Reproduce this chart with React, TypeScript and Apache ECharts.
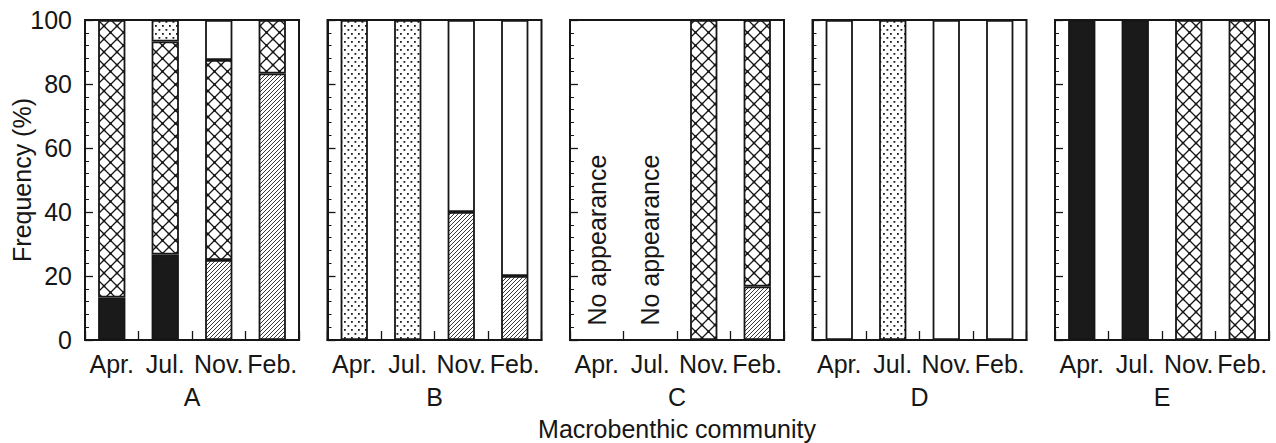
import React, { useEffect, useRef } from 'react';
import * as echarts from 'echarts';

const months = ['Apr.', 'Jul.', 'Nov.', 'Feb.'];
const communities = ['A', 'B', 'C', 'D', 'E'];
const yTickStep = 20;

// Frequency (%) per community (rows A–E) and month (columns), stacked bottom to top
const solidShare = [
  [13.3, 26.7, 0, 0],
  [0, 0, 0, 0],
  [0, 0, 0, 0],
  [0, 0, 0, 0],
  [100, 100, 0, 0],
];
const hatchedShare = [
  [0, 0, 25, 83.3],
  [0, 0, 40, 20],
  [0, 0, 0, 16.7],
  [0, 0, 0, 0],
  [0, 0, 0, 0],
];
const crossedShare = [
  [86.7, 66.6, 62.5, 16.7],
  [0, 0, 0, 0],
  [0, 0, 100, 83.3],
  [0, 0, 0, 0],
  [0, 0, 100, 100],
];
const dottedShare = [
  [0, 6.7, 0, 0],
  [100, 100, 0, 0],
  [0, 0, 0, 0],
  [0, 100, 0, 0],
  [0, 0, 0, 0],
];
const openShare = [
  [0, 0, 12.5, 0],
  [0, 0, 60, 80],
  [0, 0, 0, 0],
  [100, 0, 100, 100],
  [0, 0, 0, 0],
];
// months with no individuals recorded, per community
const absentMonths = [[], [], ['Apr.', 'Jul.'], [], []];

const FONT = '"Liberation Sans", Arial, Helvetica, sans-serif';
const INK = '#161616';
const FS = 25;

function makeTile(w: number, h: number, draw: (ctx: CanvasRenderingContext2D) => void) {
  const c = document.createElement('canvas');
  c.width = w;
  c.height = h;
  const ctx = c.getContext('2d')!;
  ctx.fillStyle = '#ffffff';
  ctx.fillRect(0, 0, w, h);
  draw(ctx);
  return c;
}

function buildFills() {
  const cross = makeTile(13, 13, (ctx) => {
    ctx.strokeStyle = INK;
    ctx.lineWidth = 1.3;
    ctx.beginPath();
    ctx.moveTo(0, 0);
    ctx.lineTo(13, 13);
    ctx.moveTo(13, 0);
    ctx.lineTo(0, 13);
    ctx.stroke();
    ctx.fillStyle = INK;
    ctx.fillRect(5.3, 5.3, 2.4, 2.4);
    ctx.fillRect(0, 0, 1.2, 1.2);
    ctx.fillRect(11.8, 0, 1.2, 1.2);
    ctx.fillRect(0, 11.8, 1.2, 1.2);
    ctx.fillRect(11.8, 11.8, 1.2, 1.2);
  });
  const dots = makeTile(7, 8, (ctx) => {
    ctx.fillStyle = '#1e1e1e';
    ctx.fillRect(1, 1, 1.8, 1.8);
    ctx.fillRect(4.5, 5, 1.8, 1.8);
  });
  const hatch = makeTile(4, 4, (ctx) => {
    ctx.strokeStyle = '#222';
    ctx.lineWidth = 0.9;
    ctx.beginPath();
    ctx.moveTo(0, 4);
    ctx.lineTo(4, 0);
    ctx.moveTo(-1, 1);
    ctx.lineTo(1, -1);
    ctx.moveTo(3, 5);
    ctx.lineTo(5, 3);
    ctx.stroke();
  });
  return {
    solid: '#1a1a1a',
    hatched: { image: hatch, repeat: 'repeat' },
    crossed: { image: cross, repeat: 'repeat' },
    dotted: { image: dots, repeat: 'repeat' },
    open: '#ffffff',
  };
}

const GRID_LEFT = 85;
const GRID_STEP = 242.5;
const GRID_W = 214;
const GRID_TOP = 20;
const GRID_H = 320;

export default function App() {
  const ref = useRef<HTMLDivElement>(null);

  useEffect(() => {
    if (!ref.current) return;
    const chart = echarts.init(ref.current, undefined, { renderer: 'svg' });
    const fills = buildFills();
    const layers: [string, number[][], any][] = [
      ['solid', solidShare, fills.solid],
      ['hatched', hatchedShare, fills.hatched],
      ['crossed', crossedShare, fills.crossed],
      ['dotted', dottedShare, fills.dotted],
      ['open', openShare, fills.open],
    ];

    const grids = communities.map((_, g) => ({
      left: GRID_LEFT + g * GRID_STEP,
      top: GRID_TOP,
      width: GRID_W,
      height: GRID_H,
      show: true,
      borderColor: INK,
      borderWidth: 2,
      backgroundColor: '#fff',
    }));

    const xAxes = communities.map((name, g) => ({
      gridIndex: g,
      type: 'category',
      data: months,
      name,
      nameLocation: 'middle',
      nameGap: 44,
      nameMoveOverlap: false,
      nameTextStyle: { color: INK, fontSize: FS, fontFamily: FONT },
      axisLine: { show: true, lineStyle: { color: INK, width: 2 } },
      axisTick: { show: true, inside: true, length: 9, lineStyle: { color: INK, width: 1.3 } },
      axisLabel: { color: INK, fontSize: FS, fontFamily: FONT, margin: 11, interval: 0, hideOverlap: false },
      splitLine: { show: false },
    }));

    const yAxes = communities.map((_, g) => ({
      gridIndex: g,
      type: 'value',
      min: 0,
      max: 100,
      interval: yTickStep,
      name: g === 0 ? 'Frequency (%)' : '',
      nameLocation: 'middle',
      nameGap: 51,
      nameMoveOverlap: false,
      nameTextStyle: { color: INK, fontSize: FS, fontFamily: FONT },
      axisLine: { show: true, lineStyle: { color: INK, width: 2 } },
      axisTick: { show: true, inside: true, length: 8, lineStyle: { color: INK, width: 1.3 } },
      minorTick: { show: true, splitNumber: 5, length: 4, lineStyle: { color: INK, width: 1 } },
      axisLabel: { show: g === 0, color: INK, fontSize: FS, fontFamily: FONT, margin: 13 },
      splitLine: { show: false },
      minorSplitLine: { show: false },
    }));

    const series: any[] = [];
    communities.forEach((_, g) => {
      layers.forEach(([key, table, fill]) => {
        series.push({
          type: 'bar',
          name: key,
          xAxisIndex: g,
          yAxisIndex: g,
          stack: 'community' + g,
          barWidth: '51%',
          data: table[g].map((v) => (v > 0 ? v : '-')),
          itemStyle: { color: fill, borderColor: INK, borderWidth: 1.8 },
          emphasis: { disabled: true },
        });
      });
    });

    const footer = {
      type: 'text',
      x: GRID_LEFT + 2 * GRID_STEP + GRID_W / 2,
      y: 429,
      style: {
        text: 'Macrobenthic community',
        fill: INK,
        fontSize: FS,
        fontFamily: FONT,
        align: 'center',
        verticalAlign: 'middle',
      },
    };

    chart.setOption({
      animation: false,
      backgroundColor: '#fff',
      grid: grids,
      xAxis: xAxes,
      yAxis: yAxes,
      series,
      graphic: [footer],
    });

    // "No appearance" notes, anchored on their category through the axis scale
    const notes: any[] = [];
    absentMonths.forEach((list, g) => {
      list.forEach((m) => {
        const [px, py] = chart.convertToPixel({ xAxisIndex: g, yAxisIndex: g }, [m, 4.5]) as number[];
        notes.push({
          type: 'text',
          x: px,
          y: py,
          rotation: Math.PI / 2,
          style: {
            text: 'No appearance',
            fill: INK,
            fontSize: FS,
            fontFamily: FONT,
            align: 'left',
            verticalAlign: 'middle',
          },
        });
      });
    });
    chart.setOption({ graphic: [footer, ...notes] });

    return () => chart.dispose();
  }, []);

  return (
    <div
      ref={ref}
      style={{ position: 'fixed', left: 0, top: 0, width: 1276, height: 443, background: '#fff' }}
    />
  );
}
